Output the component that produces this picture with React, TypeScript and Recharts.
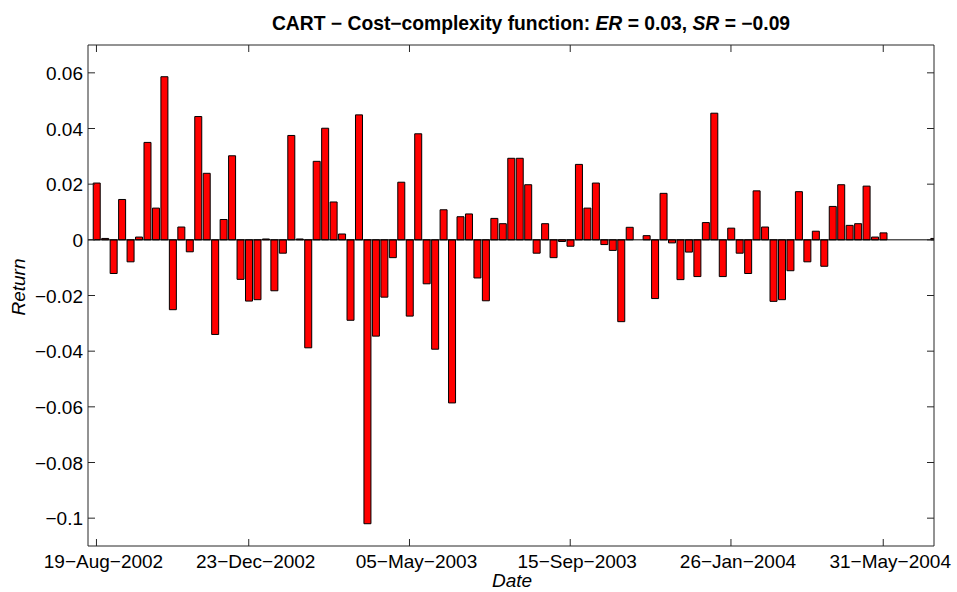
import { BarChart, Bar, XAxis, YAxis, ReferenceLine } from 'recharts';

// weekly returns, week 0 = 19-Aug-2002
const RETURNS = [
  0.0204, 0.0005, -0.0121, 0.0145, -0.0079, 0.001, 0.035, 0.0114, 0.0586, -0.0251,
  0.0046, -0.0043, 0.0443, 0.0239, -0.034, 0.0073, 0.0302, -0.0142, -0.022, -0.0215,
  0.0003, -0.0183, -0.0048, 0.0375, 0.0003, -0.0388, 0.0282, 0.0401, 0.0136, 0.0021,
  -0.0289, 0.0449, -0.102, -0.0346, -0.0206, -0.0064, 0.0207, -0.0274, 0.0381, -0.0158,
  -0.0393, 0.0108, -0.0586, 0.0083, 0.0093, -0.0137, -0.0219, 0.0077, 0.0058, 0.0293,
  0.0293, 0.0198, -0.0048, 0.0058, -0.0064, -0.0006, -0.0023, 0.0271, 0.0114, 0.0204,
  -0.0017, -0.0038, -0.0294, 0.0045, 0, 0.0015, -0.0211, 0.0167, -0.0011, -0.0143,
  -0.0044, -0.0132, 0.0062, 0.0455, -0.0132, 0.0042, -0.0048, -0.0121, 0.0176, 0.0046,
  -0.0221, -0.0215, -0.0111, 0.0173, -0.0079, 0.0031, -0.0095, 0.012, 0.0198, 0.0052,
  0.0058, 0.0193, 0.001, 0.0025, 0, 0, 0, 0, 0, 0.0005
];

const X_TICKS = [0, 18, 37, 56, 75, 93];
const X_TICK_LABELS = ['19\u2212Aug\u22122002', '23\u2212Dec\u22122002', '05\u2212May\u22122003', '15\u2212Sep\u22122003', '26\u2212Jan\u22122004', '31\u2212May\u22122004'];

const Y_TICKS = [-0.1, -0.08, -0.06, -0.04, -0.02, 0, 0.02, 0.04, 0.06];
const Y_TICK_LABELS = ['\u22120.1', '\u22120.08', '\u22120.06', '\u22120.04', '\u22120.02', '0', '0.02', '0.04', '0.06'];

const data = RETURNS.map((r, i) => ({ week: i, ret: r }));

const W = 957;
const H = 592;
const PL = 88;
const PR = 934;
const PT = 45;
const PB = 546;
const TICK = 7;
const FONT = '"Liberation Sans", Arial, sans-serif';
const AXIS = '#262626';

function YTick({ y, payload }: any) {
  const i = Y_TICKS.indexOf(payload.value);
  return (
    <g>
      <line x1={PL} x2={PL + TICK} y1={y} y2={y} stroke={AXIS} />
      <line x1={PR - TICK} x2={PR} y1={y} y2={y} stroke={AXIS} />
      <text x={PL - 5} y={y} dy={7} textAnchor="end" fontSize={19} fontFamily={FONT} fill="#000">
        {Y_TICK_LABELS[i]}
      </text>
    </g>
  );
}

function XTick({ x, payload }: any) {
  const i = X_TICKS.indexOf(payload.value);
  return (
    <g>
      <line x1={x} x2={x} y1={PB - TICK} y2={PB} stroke={AXIS} />
      <line x1={x} x2={x} y1={PT} y2={PT + TICK} stroke={AXIS} />
      <text x={x + 7} y={PB + 22} textAnchor="middle" fontSize={19} fontFamily={FONT} fill="#000">
        {X_TICK_LABELS[i]}
      </text>
    </g>
  );
}

export default function App() {
  return (
    <div style={{ position: 'absolute', left: 0, top: 0, width: W, height: H, background: '#fff' }}>
      <svg width={W} height={40} style={{ position: 'absolute', left: 0, top: 0 }}>
        <text x={531} y={30} textAnchor="middle" fontSize={19.3} fontWeight="bold" fontFamily={FONT}>
          CART {'\u2212'} Cost{'\u2212'}complexity function: <tspan fontStyle="italic">ER</tspan> = 0.03,{' '}
          <tspan fontStyle="italic">SR</tspan> = {'\u2212'}0.09
        </text>
      </svg>
      <BarChart width={W} height={H} data={data} margin={{ top: PT, right: W - PR, bottom: 0, left: 0 }}>
        <XAxis
          dataKey="week"
          type="number"
          domain={[-1, 99]}
          allowDataOverflow
          ticks={X_TICKS}
          interval={0}
          height={H - PB}
          tickLine={false}
          axisLine={{ stroke: AXIS }}
          tick={<XTick />}
          label={() => (
            <text x={512} y={587} textAnchor="middle" fontSize={19} fontStyle="italic" fontFamily={FONT}>
              Date
            </text>
          )}
        />
        <YAxis
          type="number"
          domain={[-0.11, 0.07]}
          ticks={Y_TICKS}
          interval={0}
          width={PL}
          tickLine={false}
          axisLine={{ stroke: AXIS }}
          tick={<YTick />}
          label={() => (
            <text
              x={25}
              y={287}
              transform="rotate(-90 25 287)"
              textAnchor="middle"
              fontSize={19}
              fontStyle="italic"
              fontFamily={FONT}
            >
              Return
            </text>
          )}
        />
        <ReferenceLine y={0.07} stroke={AXIS} />
        <ReferenceLine x={99} stroke={AXIS} />
        <ReferenceLine y={0} stroke="#000" />
        <Bar dataKey="ret" barSize={7} fill="#ff0000" stroke="#000" strokeWidth={1} isAnimationActive={false} />
      </BarChart>
    </div>
  );
}
